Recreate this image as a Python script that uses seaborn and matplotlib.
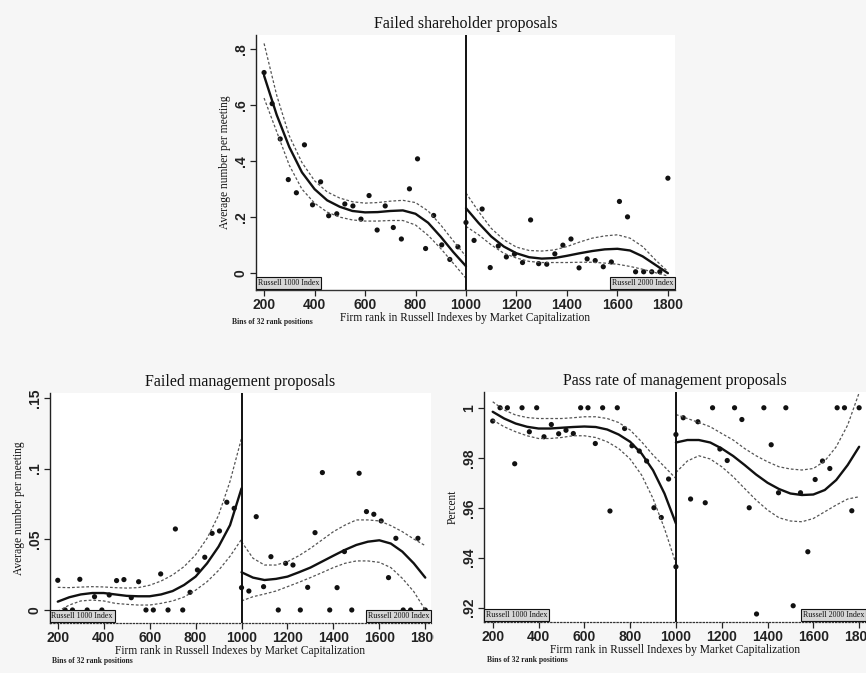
import numpy as np
import pandas as pd
import matplotlib
matplotlib.use("Agg")
import matplotlib.pyplot as plt
import seaborn as sns

# ---------------- data ----------------
RANKS = [200 + 32 * i for i in range(51)]          # bin positions (32 rank positions)
FIT_X_LEFT = [200 + 50 * i for i in range(17)]      # 200 .. 1000
FIT_X_RIGHT = [1000 + 50 * i for i in range(17)]    # 1000 .. 1800

# Failed shareholder proposals
fsp_points = [0.716, 0.605, 0.479, 0.334, 0.287, 0.458, 0.244, 0.326, 0.205, 0.212,
              0.247, 0.240, 0.193, 0.277, 0.154, 0.240, 0.163, 0.122, 0.301, 0.408,
              0.088, 0.206, 0.101, 0.049, 0.094, 0.181, 0.117, 0.229, 0.020, 0.097,
              0.058, 0.068, 0.038, 0.190, 0.034, 0.032, 0.069, 0.100, 0.122, 0.019,
              0.051, 0.045, 0.023, 0.040, 0.256, 0.201, 0.005, 0.005, 0.005, 0.005,
              0.339]
fsp_fit_l = [0.705, 0.565, 0.450, 0.360, 0.300, 0.260, 0.237, 0.222, 0.217, 0.218,
             0.222, 0.224, 0.212, 0.180, 0.130, 0.075, 0.025]
fsp_hi_l = [0.820, 0.635, 0.490, 0.395, 0.330, 0.290, 0.268, 0.255, 0.250, 0.252,
            0.257, 0.260, 0.252, 0.222, 0.172, 0.115, 0.060]
fsp_lo_l = [0.625, 0.505, 0.385, 0.300, 0.250, 0.218, 0.200, 0.190, 0.186, 0.186,
            0.188, 0.188, 0.172, 0.135, 0.088, 0.035, -0.018]
fsp_fit_r = [0.232, 0.179, 0.131, 0.095, 0.071, 0.057, 0.052, 0.054, 0.062, 0.071,
             0.079, 0.085, 0.087, 0.081, 0.060, 0.030, 0.000]
fsp_hi_r = [0.286, 0.220, 0.160, 0.119, 0.093, 0.081, 0.079, 0.083, 0.095, 0.111,
            0.125, 0.133, 0.137, 0.125, 0.095, 0.048, 0.006]
fsp_lo_r = [0.167, 0.137, 0.101, 0.071, 0.054, 0.042, 0.038, 0.038, 0.038, 0.039,
            0.039, 0.036, 0.032, 0.024, 0.014, 0.002, -0.010]

# Failed management proposals
fmp_points = [0.021, 0.0, 0.0, 0.0217, 0.0, 0.0094, 0.0, 0.0106, 0.0208, 0.0215,
              0.0087, 0.020, 0.0, 0.0, 0.0255, 0.0, 0.0573, 0.0, 0.0125, 0.0283,
              0.0373, 0.0542, 0.0559, 0.0762, 0.0719, 0.0158, 0.0134, 0.066, 0.0165, 0.0377,
              0.0, 0.033, 0.0318, 0.0, 0.016, 0.0547, 0.0972, 0.0, 0.0158, 0.0413,
              0.0, 0.0967, 0.0696, 0.0677, 0.063, 0.0229, 0.0507, 0.0, 0.0, 0.0507,
              0.0]
fmp_fit_l = [0.0059, 0.009, 0.011, 0.012, 0.012, 0.011, 0.010, 0.0097, 0.0097, 0.011,
             0.0134, 0.0177, 0.0236, 0.033, 0.0448, 0.060, 0.086]
fmp_hi_l = [0.016, 0.0158, 0.0162, 0.0165, 0.0163, 0.0158, 0.0155, 0.0158, 0.0175, 0.0205,
            0.0248, 0.0307, 0.039, 0.0507, 0.067, 0.091, 0.1215]
fmp_lo_l = [-0.001, 0.0035, 0.0064, 0.007, 0.0064, 0.0047, 0.004, 0.0035, 0.0035, 0.0047,
            0.0064, 0.0092, 0.014, 0.020, 0.028, 0.038, 0.050]
fmp_fit_r = [0.0267, 0.0229, 0.0212, 0.022, 0.0236, 0.0267, 0.030, 0.0342, 0.0384, 0.0425,
             0.046, 0.0483, 0.0493, 0.047, 0.0413, 0.033, 0.0229]
fmp_hi_r = [0.0483, 0.0366, 0.0318, 0.0318, 0.0342, 0.0384, 0.0436, 0.0495, 0.0554, 0.060,
            0.0637, 0.0637, 0.063, 0.0597, 0.0554, 0.0502, 0.0455]
fmp_lo_r = [0.0064, 0.0094, 0.0113, 0.0134, 0.0165, 0.0196, 0.0229, 0.0264, 0.030, 0.033,
            0.0347, 0.0347, 0.0337, 0.030, 0.0224, 0.013, 0.0]

# Pass rate of management proposals
pmp_points = [0.9947, 1.0, 1.0, 0.9776, 1.0, 0.9904, 1.0, 0.9884, 0.9933, 0.9896,
              0.991, 0.9897, 1.0, 1.0, 0.9857, 1.0, 0.9587, 1.0, 0.9917, 0.9848,
              0.9827, 0.9787, 0.960, 0.9561, 0.9715, 0.9893, 0.996, 0.9635, 0.9944, 0.962,
              1.0, 0.9835, 0.9789, 1.0, 0.9953, 0.960, 0.9175, 1.0, 0.9852, 0.966,
              1.0, 0.9208, 0.966, 0.9424, 0.9713, 0.9787, 0.9757, 1.0, 1.0, 0.9588,
              1.0]
pmp_extra_rank = [1000]
pmp_extra = [0.9364]
pmp_fit_l = [0.9984, 0.9957, 0.9937, 0.9924, 0.9917, 0.9917, 0.992, 0.9923, 0.9925, 0.9923,
             0.9913, 0.9893, 0.9864, 0.9817, 0.975, 0.9657, 0.9537]
pmp_hi_l = [1.0024, 0.9991, 0.9971, 0.9961, 0.9957, 0.9957, 0.9957, 0.996, 0.9964, 0.9964,
            0.9957, 0.9941, 0.9911, 0.9864, 0.9811, 0.9764, 0.9717]
pmp_lo_l = [0.9951, 0.9924, 0.9904, 0.9888, 0.9877, 0.9877, 0.9881, 0.9888, 0.9888, 0.9881,
            0.9864, 0.9837, 0.9795, 0.9731, 0.9637, 0.9517, 0.9377]
pmp_fit_r = [0.9861, 0.9871, 0.9871, 0.9861, 0.9837, 0.9807, 0.9771, 0.9733, 0.970, 0.9675,
             0.9657, 0.9651, 0.9653, 0.9671, 0.9711, 0.9771, 0.9844]
pmp_hi_r = [0.9973, 0.9957, 0.9941, 0.9924, 0.9897, 0.9871, 0.9837, 0.9808, 0.9784, 0.9764,
            0.9755, 0.9751, 0.9757, 0.9787, 0.9844, 0.9931, 1.006]
pmp_lo_r = [0.9741, 0.9787, 0.9808, 0.9795, 0.9764, 0.9724, 0.9677, 0.9631, 0.9591, 0.956,
            0.9547, 0.9544, 0.9557, 0.9584, 0.9611, 0.9635, 0.9644]

X_TICKS = [200, 400, 600, 800, 1000, 1200, 1400, 1600, 1800]
fsp_yticks, fsp_ylabels = [0, 0.2, 0.4, 0.6, 0.8], ["0", ".2", ".4", ".6", ".8"]
fmp_yticks, fmp_ylabels = [0, 0.05, 0.1, 0.15], ["0", ".05", ".1", ".15"]
pmp_yticks, pmp_ylabels = [0.92, 0.94, 0.96, 0.98, 1.0], [".92", ".94", ".96", ".98", "1"]

TITLES = ["Failed shareholder proposals", "Failed management proposals",
          "Pass rate of management proposals"]
YLABELS = ["Average number per meeting", "Average number per meeting", "Percent"]
XLABEL = "Firm rank in Russell Indexes by Market Capitalization"
NOTE = "Bins of 32 rank positions"
BOX_LEFT, BOX_RIGHT = "Russell 1000 Index", "Russell 2000 Index"

# ---------------- style ----------------
sns.set_theme(style="white")
plt.rcParams["font.family"] = ["Liberation Serif", "DejaVu Serif"]

SERIF = "Liberation Serif"
SANS = "Liberation Sans"

fig = plt.figure(figsize=(8.66, 6.73), dpi=100)
fig.patch.set_facecolor("#f6f6f6")

ax_top = fig.add_axes([0.2956, 0.5691, 0.4838, 0.3789])
ax_bl = fig.add_axes([0.0577, 0.0743, 0.4400, 0.3418])
ax_br = fig.add_axes([0.5589, 0.0758, 0.4411, 0.3417])

panels = [
    (ax_top, fsp_points, (fsp_fit_l, fsp_hi_l, fsp_lo_l), (fsp_fit_r, fsp_hi_r, fsp_lo_r),
     (168, 1828), (-0.06, 0.85), fsp_yticks, fsp_ylabels, TITLES[0], YLABELS[0], "solid"),
    (ax_bl, fmp_points, (fmp_fit_l, fmp_hi_l, fmp_lo_l), (fmp_fit_r, fmp_hi_r, fmp_lo_r),
     (166, 1825), (-0.0092, 0.1535), fmp_yticks, fmp_ylabels, TITLES[1], YLABELS[1], "dotted"),
    (ax_br, pmp_points, (pmp_fit_l, pmp_hi_l, pmp_lo_l), (pmp_fit_r, pmp_hi_r, pmp_lo_r),
     (162, 1830), (0.9143, 1.0063), pmp_yticks, pmp_ylabels, TITLES[2], YLABELS[2], "dotted"),
]

dash = (0, (2.2, 1.6))
for (ax, pts, left, right, xl, yl, yt, ytl, title, ylab, bstyle) in panels:
    ax.set_facecolor("white")
    df = pd.DataFrame({"rank": RANKS, "value": pts})
    sns.scatterplot(data=df, x="rank", y="value", ax=ax, s=14, color="#111111",
                    edgecolor="none", zorder=3, legend=False)
    if ax is ax_br:
        sns.scatterplot(x=pmp_extra_rank, y=pmp_extra, ax=ax, s=14, color="#111111",
                        edgecolor="none", zorder=3, legend=False)
    for xs, (fit, hi, lo) in ((FIT_X_LEFT, left), (FIT_X_RIGHT, right)):
        sns.lineplot(x=xs, y=fit, ax=ax, color="#111111", lw=1.7, sort=False,
                     estimator=None, zorder=4)
        sns.lineplot(x=xs, y=hi, ax=ax, color="#555555", lw=0.9, sort=False,
                     estimator=None, linestyle=dash, zorder=4)
        sns.lineplot(x=xs, y=lo, ax=ax, color="#555555", lw=0.9, sort=False,
                     estimator=None, linestyle=dash, zorder=4)
    ax.axvline(1000, color="#111111", lw=1.4, zorder=5)
    ax.set_xlim(*xl)
    ax.set_ylim(*yl)
    ax.set_xticks(X_TICKS)
    ax.set_xticklabels([str(t) for t in X_TICKS], fontsize=10, family=SANS,
                       fontweight="bold", color="#222222")
    ax.set_yticks(yt)
    ax.set_yticklabels(ytl, fontsize=10, family=SANS, fontweight="bold",
                       color="#222222", rotation=90, va="center")
    ax.tick_params(axis="both", direction="out", length=4, width=0.9, color="#222222",
                   pad=2, bottom=True, left=True)
    for s in ("top", "right"):
        ax.spines[s].set_visible(False)
    ax.spines["left"].set_color("#222222")
    ax.spines["left"].set_linewidth(1.0)
    ax.spines["bottom"].set_color("#333333")
    ax.spines["bottom"].set_linewidth(1.0 if bstyle == "solid" else 0.9)
    ax.spines["bottom"].set_linestyle(bstyle)
    ax.set_title(title, fontsize=11.5, family=SERIF, color="#111111", pad=5)
    ax.set_xlabel(XLABEL, fontsize=8.3, family=SERIF, color="#111111", labelpad=0)
    ax.set_ylabel(ylab, fontsize=8.3, family=SERIF, color="#111111", labelpad=2)
    box = dict(boxstyle="square,pad=0.22", fc="#d6d6d6", ec="#111111", lw=0.8)
    ax.text(0.004, 0.012, BOX_LEFT, transform=ax.transAxes, ha="left", va="bottom",
            fontsize=5.8, family=SERIF, color="#111111", bbox=box, zorder=6)
    ax.text(0.996, 0.012, BOX_RIGHT, transform=ax.transAxes, ha="right", va="bottom",
            fontsize=5.8, family=SERIF, color="#111111", bbox=box, zorder=6)

# "180" cut off on the bottom-left panel where the right panel begins
clip_rect = matplotlib.transforms.Bbox.from_extents(0, 0, 434 / 866, 1)
for lbl in ax_bl.get_xticklabels():
    lbl.set_clip_box(matplotlib.transforms.TransformedBbox(clip_rect, fig.transFigure))
    lbl.set_clip_on(True)

fig.text(232 / 866, 1 - 322 / 673, NOTE, fontsize=5.5, family=SERIF, fontweight="bold",
         ha="left", va="center", color="#222222")
fig.text(52 / 866, 1 - 661 / 673, NOTE, fontsize=5.5, family=SERIF, fontweight="bold",
         ha="left", va="center", color="#222222")
fig.text(487 / 866, 1 - 660 / 673, NOTE, fontsize=5.5, family=SERIF, fontweight="bold",
         ha="left", va="center", color="#222222")

fig.savefig("out.png", dpi=100, facecolor=fig.get_facecolor())
